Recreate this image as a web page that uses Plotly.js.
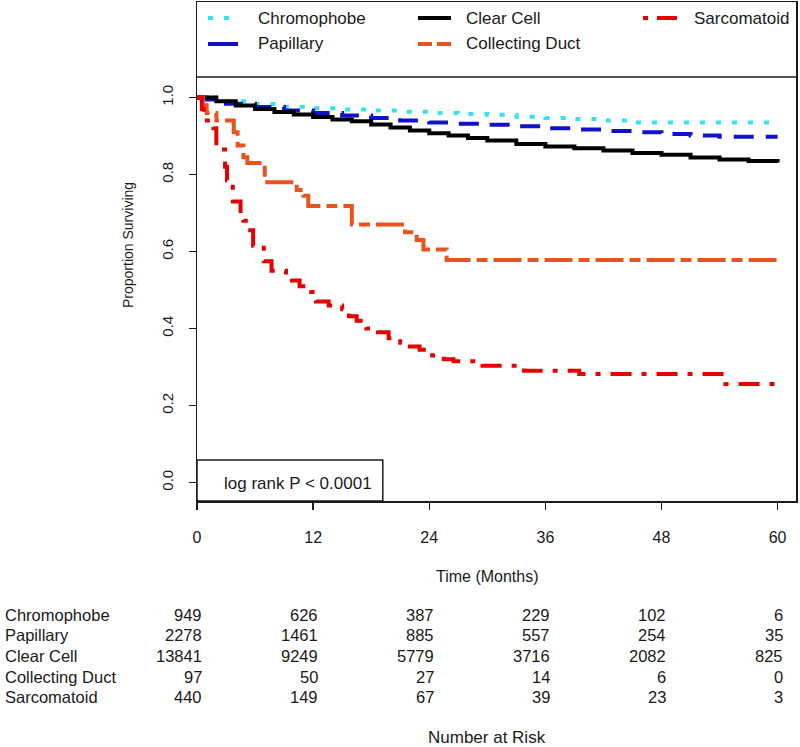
<!DOCTYPE html>
<html>
<head>
<meta charset="utf-8">
<script src="https://cdn.plot.ly/plotly-3.0.1.min.js"></script>
<style>
  html, body { margin: 0; padding: 0; background: #fff; }
  #km { width: 800px; height: 747px; }
</style>
</head>
<body>
<div id="km"></div>
<script>
/* Kaplan-Meier survival by renal cell histology, with a number-at-risk
   table drawn under the axis. Step values. */

// ---- survival curves (months, proportion surviving) -------------------------
var chromTime = [0, 3, 6, 9, 12, 15, 18, 21, 24, 27, 30, 33, 36, 39, 42, 45, 60];
var chromSurv = [1, 0.99, 0.983, 0.976, 0.972, 0.969, 0.966, 0.963, 0.96, 0.957, 0.955, 0.95, 0.947, 0.944, 0.94, 0.935, 0.935];

var papTime = [0, 1, 3, 6, 9, 12, 15, 18, 21, 24, 27, 30, 33, 36, 39, 42, 45, 48, 51, 54, 60];
var papSurv = [1, 0.995, 0.984, 0.975, 0.966, 0.96, 0.953, 0.947, 0.94, 0.935, 0.932, 0.929, 0.925, 0.92, 0.917, 0.913, 0.91, 0.905, 0.901, 0.898, 0.898];

var ccTime = [0, 2, 4, 6, 8, 10, 12, 14, 16, 18, 20, 22, 24, 26, 28, 30, 33, 36, 39, 42, 45, 48, 51, 54, 57, 60];
var ccSurv = [1, 0.99, 0.979, 0.97, 0.962, 0.956, 0.949, 0.943, 0.938, 0.93, 0.922, 0.914, 0.907, 0.901, 0.895, 0.888, 0.879, 0.873, 0.868, 0.862, 0.856, 0.851, 0.844, 0.839, 0.835, 0.831];

var cdTime = [0, 0.6, 1.0, 2.0, 3.8, 4.2, 4.8, 5.2, 7.0, 10.3, 11.0, 11.5, 16.0, 21.5, 22.7, 23.4, 25.8, 60];
var cdSurv = [1, 0.98, 0.96, 0.94, 0.91, 0.875, 0.845, 0.83, 0.78, 0.76, 0.745, 0.718, 0.67, 0.65, 0.63, 0.605, 0.578, 0.578];

var sarTime = [0, 0.5, 0.7, 1.7, 2.0, 2.9, 3.1, 3.7, 4.5, 4.8, 5.5, 5.8, 6.9, 7.7, 9.2, 9.8, 10.6, 11.8, 12.3, 13.6, 15.0, 15.7, 16.5, 17.5, 18.7, 19.8, 21.0, 22.0, 23.0, 24.3, 25.5, 26.5, 29.5, 33.8, 39.5, 54.6, 60];
var sarSurv = [1, 0.97, 0.94, 0.92, 0.865, 0.82, 0.785, 0.73, 0.70, 0.68, 0.655, 0.615, 0.575, 0.55, 0.54, 0.525, 0.51, 0.495, 0.47, 0.46, 0.45, 0.432, 0.42, 0.40, 0.39, 0.375, 0.363, 0.353, 0.345, 0.33, 0.32, 0.315, 0.303, 0.29, 0.282, 0.256, 0.256];

// ---- number at risk ----------------------------------------------------------
var riskTimes = [0, 12, 24, 36, 48, 60];
var riskChrom = [949, 626, 387, 229, 102, 6];
var riskPap = [2278, 1461, 885, 557, 254, 35];
var riskCC = [13841, 9249, 5779, 3716, 2082, 825];
var riskCD = [97, 50, 27, 14, 6, 0];
var riskSar = [440, 149, 67, 39, 23, 3];

var groupNames = ["Chromophobe", "Papillary", "Clear Cell", "Collecting Duct", "Sarcomatoid"];

var xTicks = [0, 12, 24, 36, 48, 60];
var yTicks = [0, 0.2, 0.4, 0.6, 0.8, 1.0];
var yTickText = ["0.0", "0.2", "0.4", "0.6", "0.8", "1.0"];

// ---- styling -----------------------------------------------------------------
var FONT = "Liberation Sans, Arial, Helvetica, sans-serif";
var INK = "#1a1a1a";
var LW = 4;

var SERIES = [
  { name: "Chromophobe", t: chromTime, s: chromSurv, color: "#35e3ee", dash: "5px,11px", legDash: "5px,11px", col: 0, row: 0 },
  { name: "Papillary", t: papTime, s: papSurv, color: "#1111cc", dash: "20px,12px", legDash: "solid", col: 0, row: 1 },
  { name: "Clear Cell", t: ccTime, s: ccSurv, color: "#000000", dash: "solid", legDash: "solid", col: 1, row: 0 },
  { name: "Collecting Duct", t: cdTime, s: cdSurv, color: "#e8531f", dash: "28px,6px,11px,6px", legDash: "14px,5px", col: 1, row: 1 },
  { name: "Sarcomatoid", t: sarTime, s: sarSurv, color: "#e60000", dash: "21px,10px,5px,10px", legDash: "5px,9px,20px", col: 2, row: 0 }
];

// Pixel geometry of the plot frame inside the 800x747 page.
var M = { l: 197, r: 4, t: 2, b: 246 };
var PLOT_W = 800 - M.l - M.r;
var PLOT_H = 747 - M.t - M.b;
var BOTTOM = 747 - M.b;
function py(y) { return (BOTTOM - y) / PLOT_H; }   // page px -> paper y
function px(x) { return (x - M.l) / PLOT_W; }      // page px -> paper x

var traces = SERIES.map(function (d) {
  return {
    type: "scatter",
    mode: "lines",
    x: d.t,
    y: d.s,
    name: d.name,
    line: { color: d.color, width: LW, dash: d.dash, shape: "hv" },
    showlegend: false,
    hoverinfo: "skip"
  };
});

// Legend drawn by hand as R does: three columns inside a box on top of the frame.
var legCols = [{ x0: 208, x1: 238, tx: 256 }, { x0: 418, x1: 451, tx: 464 }, { x0: 643, x1: 677, tx: 692 }];
var legRows = [18, 44];

var shapes = [
  { type: "line", xref: "paper", yref: "paper", x0: 0, x1: 1, y0: py(77), y1: py(77), line: { color: INK, width: 1.5 } },
  { type: "rect", xref: "x", yref: "paper", x0: 0, x1: 19.2, y0: 0, y1: py(460), line: { color: INK, width: 1.5 } }
];
var annotations = [];

SERIES.forEach(function (d) {
  var c = legCols[d.col];
  var yy = py(legRows[d.row]);
  shapes.push({
    type: "line", xref: "paper", yref: "paper",
    x0: px(c.x0), x1: px(c.x1), y0: yy, y1: yy,
    line: { color: d.color, width: LW, dash: d.legDash }
  });
  annotations.push({
    xref: "paper", yref: "paper", x: px(c.tx), y: yy,
    xanchor: "left", yanchor: "middle", showarrow: false,
    text: d.name, font: { family: FONT, size: 17, color: INK }
  });
});

annotations.push({
  xref: "x", yref: "paper", x: 10.4, y: py(483), xanchor: "center", yanchor: "middle", showarrow: false,
  text: "log rank P < 0.0001", font: { family: FONT, size: 17, color: INK }
});
annotations.push({
  xref: "paper", yref: "paper", x: px(128), y: py(245), xanchor: "center", yanchor: "middle",
  textangle: -90, showarrow: false,
  text: "Proportion Surviving", font: { family: FONT, size: 14, color: INK }
});
annotations.push({
  xref: "paper", yref: "paper", x: px(487), y: py(576), xanchor: "center", yanchor: "middle", showarrow: false,
  text: "Time (Months)", font: { family: FONT, size: 16, color: INK }
});
annotations.push({
  xref: "paper", yref: "paper", x: px(487), y: py(737), xanchor: "center", yanchor: "middle", showarrow: false,
  text: "Number at Risk", font: { family: FONT, size: 17, color: INK }
});

// Number-at-risk table: names flush left, counts right-aligned under each tick.
var riskRows = [riskChrom, riskPap, riskCC, riskCD, riskSar];
var rowY = [615, 635.5, 656, 676.5, 697];
riskRows.forEach(function (vals, i) {
  annotations.push({
    xref: "paper", yref: "paper", x: px(3), y: py(rowY[i]),
    xanchor: "left", yanchor: "middle", showarrow: false,
    text: groupNames[i], font: { family: FONT, size: 16.5, color: INK }
  });
  vals.forEach(function (v, j) {
    annotations.push({
      xref: "x", yref: "paper", x: riskTimes[j], y: py(rowY[i]), xshift: 7,
      xanchor: "right", yanchor: "middle", showarrow: false,
      text: String(v), font: { family: FONT, size: 16.5, color: INK }
    });
  });
});

var layout = {
  width: 800,
  height: 747,
  margin: M,
  paper_bgcolor: "#ffffff",
  plot_bgcolor: "#ffffff",
  font: { family: FONT, color: INK },
  showlegend: false,
  xaxis: {
    range: [0, 61.9],
    tickvals: xTicks,
    ticks: "outside",
    ticklen: 7,
    tickwidth: 1.5,
    tickcolor: INK,
    ticklabelstandoff: 14,
    tickfont: { family: FONT, size: 16, color: INK },
    showline: true,
    mirror: true,
    linecolor: INK,
    linewidth: 1.5,
    showgrid: false,
    zeroline: false,
    fixedrange: true
  },
  yaxis: {
    range: [-0.048, 1.248],
    tickvals: yTicks,
    ticktext: yTickText,
    tickangle: -90,
    ticks: "outside",
    ticklen: 7,
    tickwidth: 1.5,
    tickcolor: INK,
    ticklabelstandoff: 10,
    tickfont: { family: FONT, size: 15, color: INK },
    showline: true,
    mirror: true,
    linecolor: INK,
    linewidth: 1.5,
    showgrid: false,
    zeroline: false,
    fixedrange: true
  },
  shapes: shapes,
  annotations: annotations
};

Plotly.newPlot("km", traces, layout, { displayModeBar: false, staticPlot: true });
</script>
</body>
</html>
